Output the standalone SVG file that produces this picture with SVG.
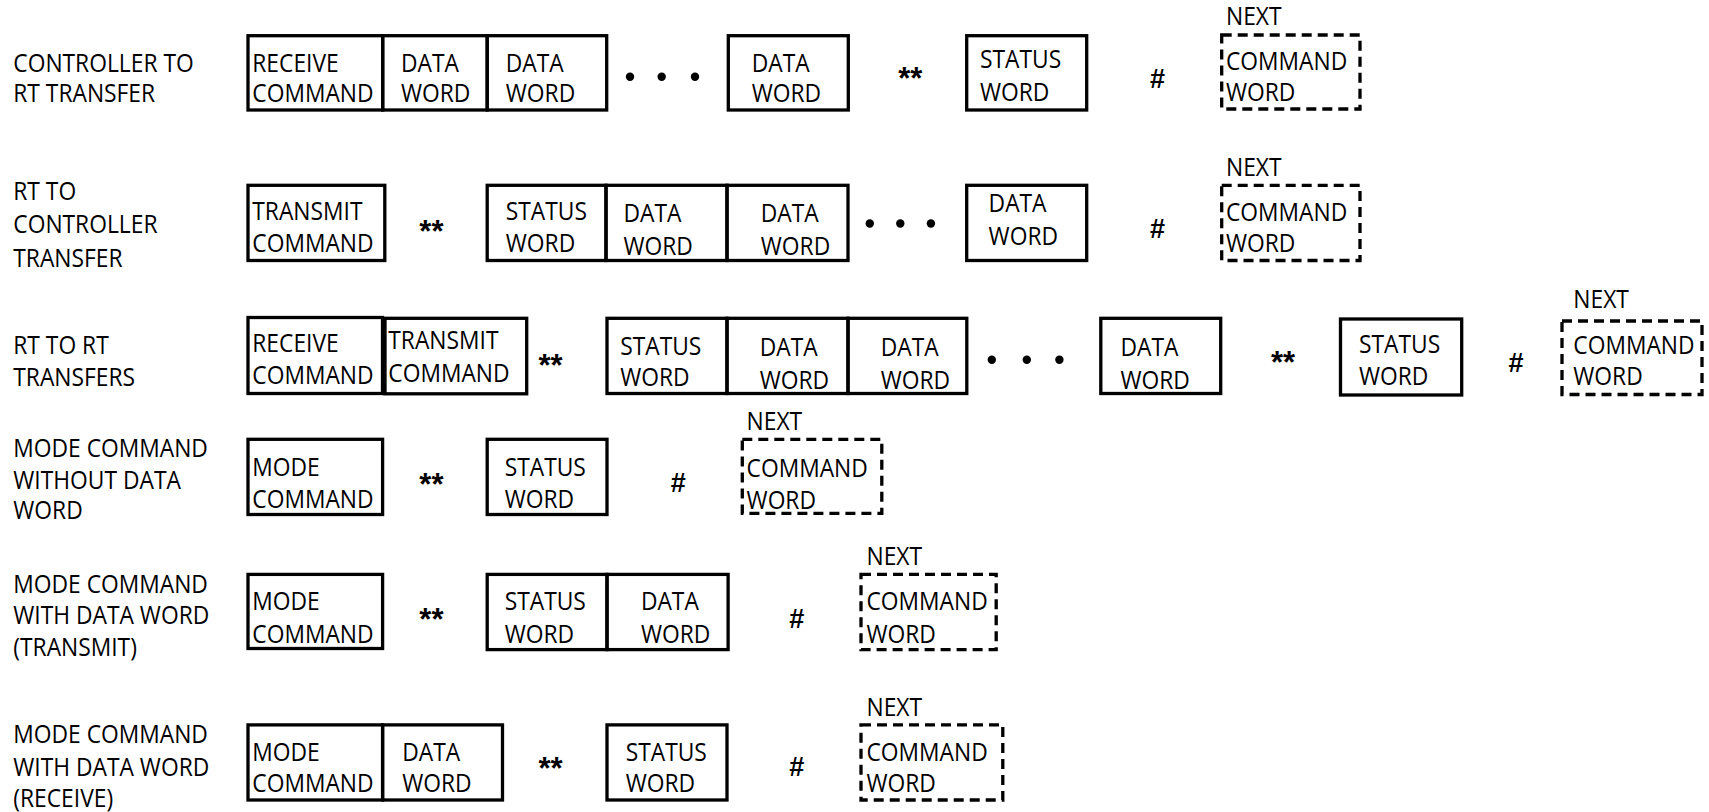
<svg xmlns="http://www.w3.org/2000/svg" width="1709" height="812" viewBox="0 0 1709 812">
<style>
  .bx { fill: none; stroke: #000; stroke-width: 3.3; }
  .ds { fill: none; stroke: #000; stroke-width: 3.3; stroke-dasharray: 10 6; }
  text { font-family: "Open Sans", "Liberation Sans", Arial, sans-serif; font-size: 24.8px; font-weight: 500; fill: #000; }
  .t { transform-box: fill-box; transform-origin: 0 0; transform: scaleX(0.92); }
  .sym { font-family: "Liberation Sans", Arial, sans-serif; font-weight: bold; text-anchor: middle; }
  .ast { font-size: 31px; }
  .hash { font-size: 27px; }
</style>
<rect width="1709" height="812" fill="#fff"/>

<!-- Row labels -->
<g id="labels">
  <text class="t" x="13.3" y="71.7">CONTROLLER TO</text>
  <text class="t" x="13.3" y="102.5">RT TRANSFER</text>
  <text class="t" x="13.3" y="200.1">RT TO</text>
  <text class="t" x="13.3" y="232.8">CONTROLLER</text>
  <text class="t" x="13.3" y="266.6">TRANSFER</text>
  <text class="t" x="13.3" y="353.8">RT TO RT</text>
  <text class="t" x="13.3" y="386.5">TRANSFERS</text>
  <text class="t" x="13.3" y="457.4">MODE COMMAND</text>
  <text class="t" x="13.3" y="489">WITHOUT DATA</text>
  <text class="t" x="13.3" y="519.5">WORD</text>
  <text class="t" x="13.3" y="592.6">MODE COMMAND</text>
  <text class="t" x="13.3" y="624.2">WITH DATA WORD</text>
  <text class="t" x="13.3" y="655.8">(TRANSMIT)</text>
  <text class="t" x="13.3" y="743">MODE COMMAND</text>
  <text class="t" x="13.3" y="775.6">WITH DATA WORD</text>
  <text class="t" x="13.3" y="807.5">(RECEIVE)</text>
</g>

<!-- Row 1 -->
<g id="r1-receive-command"><rect class="bx" x="248" y="35.7" width="134.7" height="74.3"/><text class="t" x="252.3" y="71.7">RECEIVE</text><text class="t" x="252.3" y="102.5">COMMAND</text></g>
<g id="r1-data-word-1"><rect class="bx" x="382.7" y="35.7" width="104.5" height="74.3"/><text class="t" x="401" y="71.7">DATA</text><text class="t" x="401" y="102.5">WORD</text></g>
<g id="r1-data-word-2"><rect class="bx" x="487.2" y="35.7" width="119.5" height="74.3"/><text class="t" x="505.8" y="71.7">DATA</text><text class="t" x="505.8" y="102.5">WORD</text></g>
<g id="r1-data-word-n"><rect class="bx" x="728.3" y="35.7" width="120" height="74.3"/><text class="t" x="751.7" y="71.7">DATA</text><text class="t" x="751.7" y="102.5">WORD</text></g>
<g id="r1-status-word"><rect class="bx" x="966.7" y="35.7" width="120" height="74.3"/><text class="t" x="980" y="68.3">STATUS</text><text class="t" x="980" y="101">WORD</text></g>
<g id="r1-next-command"><text class="t" x="1226" y="25">NEXT</text><rect class="ds" x="1221.7" y="35" width="138.3" height="74"/><text class="t" x="1226" y="70">COMMAND</text><text class="t" x="1226" y="101">WORD</text></g>

<!-- Row 2 -->
<g id="r2-transmit-command"><rect class="bx" x="248" y="185.3" width="136.8" height="75.2"/><text class="t" x="252.3" y="219.8">TRANSMIT</text><text class="t" x="252.3" y="252.4">COMMAND</text></g>
<g id="r2-status-word"><rect class="bx" x="487.2" y="185.3" width="118.8" height="75.2"/><text class="t" x="505.8" y="219.8">STATUS</text><text class="t" x="505.8" y="252.4">WORD</text></g>
<g id="r2-data-word-1"><rect class="bx" x="606" y="185.3" width="121" height="75.2"/><text class="t" x="623.5" y="222">DATA</text><text class="t" x="623.5" y="254.6">WORD</text></g>
<g id="r2-data-word-2"><rect class="bx" x="727" y="185.3" width="121" height="75.2"/><text class="t" x="760.8" y="222">DATA</text><text class="t" x="760.8" y="254.6">WORD</text></g>
<g id="r2-data-word-n"><rect class="bx" x="966.7" y="185.3" width="120" height="75.2"/><text class="t" x="988.6" y="212.1">DATA</text><text class="t" x="988.6" y="244.8">WORD</text></g>
<g id="r2-next-command"><text class="t" x="1226" y="176.2">NEXT</text><rect class="ds" x="1221.7" y="185.3" width="138.3" height="75.2"/><text class="t" x="1226" y="221">COMMAND</text><text class="t" x="1226" y="252.4">WORD</text></g>

<!-- Row 3 -->
<g id="r3-receive-command"><rect class="bx" x="248" y="317.5" width="134.5" height="76"/><text class="t" x="252.3" y="351.6">RECEIVE</text><text class="t" x="252.3" y="384.3">COMMAND</text></g>
<g id="r3-transmit-command"><rect class="bx" x="385" y="318.3" width="141.7" height="75.5"/><text class="t" x="388.3" y="349.3">TRANSMIT</text><text class="t" x="388.3" y="381.7">COMMAND</text></g>
<g id="r3-status-word"><rect class="bx" x="607" y="318.3" width="120" height="75.2"/><text class="t" x="620.2" y="355">STATUS</text><text class="t" x="620.2" y="386.5">WORD</text></g>
<g id="r3-data-word-1"><rect class="bx" x="727" y="318.3" width="121" height="75.2"/><text class="t" x="759.7" y="356">DATA</text><text class="t" x="759.7" y="388.9">WORD</text></g>
<g id="r3-data-word-2"><rect class="bx" x="848" y="318.3" width="118.8" height="75.2"/><text class="t" x="880.7" y="356">DATA</text><text class="t" x="880.7" y="388.9">WORD</text></g>
<g id="r3-data-word-n"><rect class="bx" x="1100.8" y="318.3" width="119.9" height="75.2"/><text class="t" x="1120.5" y="356">DATA</text><text class="t" x="1120.5" y="388.9">WORD</text></g>
<g id="r3-status-word-2"><rect class="bx" x="1340.5" y="319" width="121.2" height="76"/><text class="t" x="1359" y="353.3">STATUS</text><text class="t" x="1359" y="385">WORD</text></g>
<g id="r3-next-command"><text class="t" x="1573.3" y="308.5">NEXT</text><rect class="ds" x="1562" y="321" width="140" height="73.5"/><text class="t" x="1573.3" y="354">COMMAND</text><text class="t" x="1573.3" y="385">WORD</text></g>

<!-- Row 4 -->
<g id="r4-mode-command"><rect class="bx" x="248" y="439.3" width="134.6" height="75.2"/><text class="t" x="252.3" y="476">MODE</text><text class="t" x="252.3" y="507.6">COMMAND</text></g>
<g id="r4-status-word"><rect class="bx" x="487.2" y="439.3" width="119.8" height="75.2"/><text class="t" x="504.7" y="476">STATUS</text><text class="t" x="504.7" y="507.6">WORD</text></g>
<g id="r4-next-command"><text class="t" x="746.6" y="430.1">NEXT</text><rect class="ds" x="742.3" y="439.3" width="139.5" height="74.1"/><text class="t" x="746.6" y="477">COMMAND</text><text class="t" x="746.6" y="508.8">WORD</text></g>

<!-- Row 5 -->
<g id="r5-mode-command"><rect class="bx" x="248" y="574.4" width="134.6" height="74.1"/><text class="t" x="252.3" y="610">MODE</text><text class="t" x="252.3" y="642.6">COMMAND</text></g>
<g id="r5-status-word"><rect class="bx" x="487.2" y="574.4" width="119.8" height="75.2"/><text class="t" x="504.7" y="610">STATUS</text><text class="t" x="504.7" y="642.6">WORD</text></g>
<g id="r5-data-word"><rect class="bx" x="607" y="574.4" width="121.1" height="75.2"/><text class="t" x="640.9" y="610">DATA</text><text class="t" x="640.9" y="642.6">WORD</text></g>
<g id="r5-next-command"><text class="t" x="866.5" y="565">NEXT</text><rect class="ds" x="861" y="574.4" width="135.2" height="75.2"/><text class="t" x="866.5" y="610">COMMAND</text><text class="t" x="866.5" y="642.6">WORD</text></g>

<!-- Row 6 -->
<g id="r6-mode-command"><rect class="bx" x="248" y="724.9" width="134.6" height="75.1"/><text class="t" x="252.3" y="760.6">MODE</text><text class="t" x="252.3" y="792.2">COMMAND</text></g>
<g id="r6-data-word"><rect class="bx" x="382.6" y="724.9" width="119.9" height="75.1"/><text class="t" x="402.2" y="760.6">DATA</text><text class="t" x="402.2" y="792.2">WORD</text></g>
<g id="r6-status-word"><rect class="bx" x="607" y="724.9" width="120" height="75.1"/><text class="t" x="625.7" y="760.6">STATUS</text><text class="t" x="625.7" y="792.2">WORD</text></g>
<g id="r6-next-command"><text class="t" x="866.5" y="716">NEXT</text><rect class="ds" x="861" y="724.9" width="141.8" height="75.1"/><text class="t" x="866.5" y="760.6">COMMAND</text><text class="t" x="866.5" y="792.2">WORD</text></g>

<!-- Separators: ellipses, gaps (**) and intermessage gaps (#) -->
<g id="connectors">
  <circle cx="630" cy="76.7" r="4.2"/><circle cx="661.7" cy="76.7" r="4.2"/><circle cx="695" cy="76.7" r="4.2"/>
  <circle cx="869.8" cy="223.5" r="4.2"/><circle cx="900.3" cy="223.5" r="4.2"/><circle cx="930.9" cy="223.5" r="4.2"/>
  <circle cx="991.8" cy="359.7" r="4.2"/><circle cx="1026.8" cy="359.7" r="4.2"/><circle cx="1059.4" cy="359.7" r="4.2"/>

  <text class="sym ast" x="910.2" y="89">**</text>
  <text class="sym ast" x="431.4" y="241.9">**</text>
  <text class="sym ast" x="550.5" y="375.6">**</text>
  <text class="sym ast" x="1283" y="373.3">**</text>
  <text class="sym ast" x="431.4" y="495.3">**</text>
  <text class="sym ast" x="431.4" y="630">**</text>
  <text class="sym ast" x="550.5" y="779.3">**</text>

  <text class="sym hash" x="1157.5" y="87.5">#</text>
  <text class="sym hash" x="1157.5" y="237.9">#</text>
  <text class="sym hash" x="1516" y="372">#</text>
  <text class="sym hash" x="678.3" y="491.7">#</text>
  <text class="sym hash" x="796.8" y="628">#</text>
  <text class="sym hash" x="796.8" y="776.4">#</text>
</g>
</svg>
